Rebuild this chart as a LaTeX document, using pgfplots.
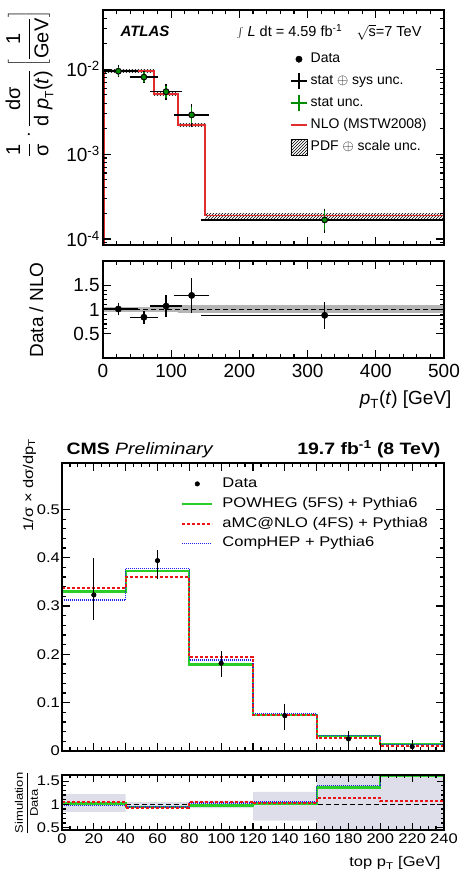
\documentclass[border=0pt]{standalone}
\usepackage{pgfplots}
\pgfplotsset{compat=1.18}
\usepackage{fontspec}
\setmainfont{Liberation Sans}
\newfontfamily\cmsfont[FakeStretch=1.18]{Liberation Sans}
\usetikzlibrary{patterns}

\definecolor{atlred}{RGB}{225,45,45}
\definecolor{atlgreen}{RGB}{0,140,0}
\definecolor{cmsgreen}{RGB}{40,205,40}
\definecolor{cmsred}{RGB}{235,20,20}
\definecolor{cmsblue}{RGB}{30,30,235}
\definecolor{cmsband}{RGB}{222,222,234}

\pgfplotsset{
  rootbox/.style={scale only axis, anchor=south west, axis on top,
    axis line style={line width=1.5pt},
    tick style={black, line width=1.1pt},
    tick align=inside, major tick length=8pt, minor tick length=4pt},
  hatch/.style={pattern=north east lines, draw=none, forget plot},
}

\begin{document}
\begin{tikzpicture}[x=1pt,y=1pt]
\useasboundingbox (0,0) rectangle (463,874);

% ---------------- ATLAS main panel
\begin{axis}[rootbox, at={(103pt,629pt)}, width=341pt, height=235pt,
  xmin=0, xmax=500, ymode=log, ymin=8.5e-5, ymax=5e-2,
  xtick={0,100,200,300,400,500}, minor x tick num=4, xticklabels={},
  ytick={1e-4,1e-3,1e-2},
  yticklabels={10\textsuperscript{-4},10\textsuperscript{-3},10\textsuperscript{-2}},
  minor ytick={9e-5,2e-4,3e-4,4e-4,5e-4,6e-4,7e-4,8e-4,9e-4,2e-3,3e-3,4e-3,5e-3,6e-3,7e-3,8e-3,9e-3,2e-2,3e-2,4e-2},
  yticklabel style={font=\fontsize{19}{21}\selectfont, inner xsep=3pt},
  legend cell align=left,
  legend style={draw=none, fill=none, at={(0.5396,0.8468)}, anchor=north west,
    font=\fontsize{14}{16}\selectfont,
    nodes={inner sep=0pt, text height=14.6pt, text depth=7.4pt},
    /tikz/every odd column/.append style={column sep=3pt}},
]
\addlegendimage{legend image code/.code={\fill[black] (8pt,0pt) circle (3.2pt);}}
\addlegendentry{Data}
\addlegendimage{legend image code/.code={\draw[black,line width=1.5pt] (0pt,0pt)--(16pt,0pt) (8pt,-8pt)--(8pt,8pt);}}
\addlegendentry{stat $\oplus$ sys unc.}
\addlegendimage{legend image code/.code={\draw[atlgreen,line width=1.5pt] (0pt,0pt)--(16pt,0pt) (8pt,-8pt)--(8pt,8pt);}}
\addlegendentry{stat unc.}
\addlegendimage{legend image code/.code={\draw[atlred,line width=1.5pt] (0pt,0pt)--(16pt,0pt);}}
\addlegendentry{NLO (MSTW2008)}
\addlegendimage{legend image code/.code={\draw[black,line width=0.8pt,pattern=north east lines] (0pt,-8pt) rectangle (16pt,8pt);}}
\addlegendentry{PDF $\oplus$ scale unc.}

% PDF + scale band, one piece per bin
\addplot[hatch] coordinates {(0,9.1e-3) (75,9.1e-3) (75,9.9e-3) (0,9.9e-3)} -- cycle;
\addplot[hatch] coordinates {(75,4.95e-3) (110,4.95e-3) (110,5.35e-3) (75,5.35e-3)} -- cycle;
\addplot[hatch] coordinates {(110,2.1e-3) (150,2.1e-3) (150,2.3e-3) (110,2.3e-3)} -- cycle;
\addplot[hatch] coordinates {(150,1.76e-4) (500,1.76e-4) (500,2.02e-4) (150,2.02e-4)} -- cycle;
% NLO prediction
\addplot[const plot, atlred, line width=1.8pt, forget plot] coordinates {
  (0,9.5e-3) (75,5.15e-3) (110,2.2e-3) (150,1.89e-4) (500,1.89e-4)};
\addplot[atlred, line width=1.8pt, forget plot] coordinates {(1.5,1e-5) (1.5,9.5e-3)};
% data, stat + syst
\addplot[black, only marks, mark=*, mark size=3.2pt, forget plot,
  error bars/.cd, x dir=both, x explicit, y dir=both, y explicit,
  error bar style={line width=1.4pt, black},
  error mark options={line width=1.4pt, mark size=4pt, black}] coordinates {
  (22.5,9.5e-3) +- (22.5,0.45e-3)
  (60,8.1e-3) +- (15,0.5e-3)
  (92.5,5.45e-3) +- (17.5,0.55e-3)
  (130,2.9e-3) +- (20,0.6e-3)
  (325,1.68e-4) +- (175,0.36e-4)};
% data, stat only
\addplot[atlgreen, only marks, mark=*, mark size=2pt, forget plot,
  error bars/.cd, y dir=both, y explicit,
  error bar style={line width=1.4pt, atlgreen},
  error mark options={line width=1.4pt, mark size=3.5pt, atlgreen}] coordinates {
  (22.5,9.5e-3) +- (0,0.3e-3)
  (60,8.1e-3) +- (0,0.35e-3)
  (92.5,5.45e-3) +- (0,0.35e-3)
  (130,2.9e-3) +- (0,0.35e-3)
  (325,1.68e-4) +- (0,0.27e-4)};
\end{axis}

\node[anchor=base west, font=\fontsize{15}{17}\selectfont\bfseries\itshape] at (117,837) {ATLAS};
\node[anchor=base east, font=\fontsize{14.5}{16}\selectfont] at (425,837)
  {$\int$ \textit{L} dt = 4.59 fb\textsuperscript{-1}\quad$\sqrt{\mbox{s}}$=7 TeV};
\node[rotate=90, font=\fontsize{20}{22}\selectfont] at (29.5,790)
  {$\displaystyle\frac{\mbox{1}}{\mbox{σ}}\cdot\frac{\mbox{dσ}}{\mbox{d \textit{p}}_{\mbox{\fontsize{12}{12}\selectfont T}}\mbox{(\textit{t})}}\left[\frac{\mbox{1}}{\mbox{GeV}}\right]$};

% ---------------- ATLAS ratio panel
\begin{axis}[rootbox, at={(103pt,516pt)}, width=341pt, height=97pt,
  xmin=0, xmax=500, ymin=0, ymax=2,
  xtick={0,100,200,300,400,500}, xticklabels={0,100,200,300,400,500}, minor x tick num=4,
  ytick={0.5,1,1.5}, yticklabels={0.5,1,1.5}, minor y tick num=4,
  tick label style={font=\fontsize{19}{21}\selectfont},
  yticklabel style={inner xsep=3pt}, xticklabel style={inner ysep=6pt},
]
\addplot[fill=gray!58, draw=none] coordinates {
  (0,0.95) (110,0.95) (110,0.93) (500,0.93) (500,1.09) (110,1.09) (110,1.05) (0,1.05)} -- cycle;
\addplot[black, line width=1.1pt, dash pattern=on 5pt off 3pt] coordinates {(0,1) (500,1)};
\addplot[black, only marks, mark=*, mark size=3.2pt,
  error bars/.cd, x dir=both, x explicit, y dir=both, y explicit,
  error bar style={line width=1.4pt, black},
  error mark options={line width=1.4pt, mark size=4pt, black}] coordinates {
  (22.5,1.01) +- (22.5,0.05)
  (60,0.84) +- (15,0.05)
  (92.5,1.07) +- (17.5,0.14)
  (130,1.29) +- (20,0.27)
  (325,0.88) +- (175,0.19)};
\end{axis}

\node[rotate=90, anchor=base, font=\fontsize{19}{21}\selectfont] at (43,564) {Data / NLO};
\node[anchor=base east, font=\fontsize{19}{21}\selectfont] at (455,469)
  {\textit{p}\textsubscript{T}(\textit{t}) [GeV]};

% ---------------- CMS main panel
\begin{axis}[rootbox, at={(62pt,123pt)}, width=382pt, height=288pt,
  axis line style={line width=1.3pt},
  xmin=0, xmax=240, ymin=0, ymax=0.596,
  xtick={0,20,40,60,80,100,120,140,160,180,200,220,240}, minor x tick num=3, xticklabels={},
  ytick={0,0.1,0.2,0.3,0.4,0.5}, yticklabels={0,0.1,0.2,0.3,0.4,0.5}, minor y tick num=4,
  yticklabel style={font=\cmsfont\fontsize{14}{16}\selectfont, inner xsep=2pt},
  legend cell align=left,
  legend style={draw=none, fill=none, at={(0.3037,0.9694)}, anchor=north west,
    font=\cmsfont\fontsize{14}{16}\selectfont,
    nodes={inner sep=0pt, text height=13.5pt, text depth=6.3pt},
    /tikz/every odd column/.append style={column sep=9pt}},
]
\addlegendimage{legend image code/.code={\fill[black] (15pt,0pt) circle (2.3pt);}}
\addlegendentry{Data}
\addlegendimage{legend image code/.code={\draw[cmsgreen, line width=2.2pt] (0pt,0pt)--(30pt,0pt);}}
\addlegendentry{POWHEG (5FS) + Pythia6}
\addlegendimage{legend image code/.code={\draw[cmsred, line width=2pt, dash pattern=on 3pt off 2pt] (0pt,0pt)--(30pt,0pt);}}
\addlegendentry{aMC@NLO (4FS) + Pythia8}
\addlegendimage{legend image code/.code={\draw[cmsblue, line width=1.5pt, dash pattern=on 1pt off 1pt] (0pt,0pt)--(30pt,0pt);}}
\addlegendentry{CompHEP + Pythia6}

\addplot[const plot, cmsgreen, line width=2.2pt, forget plot] coordinates {
  (0,0.330) (40,0.373) (80,0.179) (120,0.0745) (160,0.0315) (200,0.0140) (240,0.0140)};
\addplot[const plot, cmsblue, line width=1.5pt, dash pattern=on 1pt off 1pt, forget plot] coordinates {
  (0,0.312) (40,0.378) (80,0.188) (120,0.078) (160,0.0320) (200,0.0135) (240,0.0135)};
\addplot[const plot, cmsred, line width=2pt, dash pattern=on 3pt off 2pt, forget plot] coordinates {
  (0,0.337) (40,0.361) (80,0.195) (120,0.074) (160,0.0275) (200,0.0095) (240,0.0095)};
\addplot[black, only marks, mark=*, mark size=2.3pt, forget plot,
  error bars/.cd, y dir=both, y explicit,
  error bar style={line width=1.1pt, black},
  error mark options={line width=1.1pt, mark size=3pt, black}] coordinates {
  (20,0.323) += (0,0.070) -= (0,0.045)
  (60,0.394) += (0,0.016) -= (0,0.032)
  (100,0.1815) += (0,0.019) -= (0,0.022)
  (140,0.073) += (0,0.019) -= (0,0.024)
  (180,0.025) += (0,0.011) -= (0,0.013)
  (220,0.009) += (0,0.007) -= (0,0.007)};
\addplot[black, only marks, mark=none, forget plot,
  error bars/.cd, y dir=both, y explicit,
  error bar style={line width=1.1pt, black},
  error mark options={line width=1.1pt, mark size=3pt, black}] coordinates {
  (20,0.323) += (0,0.019) -= (0,0.021)
  (60,0.394) += (0,0.011) -= (0,0.011)
  (100,0.1815) += (0,0.008) -= (0,0.008)
  (140,0.073) += (0,0.008) -= (0,0.008)
  (180,0.025) += (0,0.005) -= (0,0.005)
  (220,0.009) += (0,0.004) -= (0,0.004)};
\end{axis}

\node[anchor=base west, font=\cmsfont\fontsize{16.5}{18}\selectfont] at (63,419)
  {\textbf{CMS} \textit{Preliminary}};
\node[anchor=base east, font=\cmsfont\fontsize{16.5}{18}\selectfont] at (444,419)
  {\textbf{19.7 fb\textsuperscript{-1} (8 TeV)}};
\node[rotate=90, anchor=base east, font=\cmsfont\fontsize{14}{16}\selectfont] at (33,439)
  {1/σ × dσ/dp\textsubscript{T}};

% ---------------- CMS ratio panel
\begin{axis}[rootbox, at={(62pt,44pt)}, width=382pt, height=55pt,
  axis line style={line width=1.3pt},
  xmin=0, xmax=240, ymin=0.45, ymax=1.63,
  xtick={0,20,40,60,80,100,120,140,160,180,200,220,240},
  xticklabels={0,20,40,60,80,100,120,140,160,180,200,220,240}, minor x tick num=3,
  ytick={0.5,1,1.5}, yticklabels={0.5,1,1.5}, minor y tick num=4,
  major tick length=7pt, minor tick length=3.5pt,
  tick label style={font=\cmsfont\fontsize{14}{16}\selectfont},
  yticklabel style={inner xsep=2pt}, xticklabel style={inner ysep=4pt},
]
\addplot[fill=cmsband, draw=none] coordinates {
  (0,1.22) (40,1.22) (40,1.05) (80,1.05) (80,1.08) (120,1.08) (120,1.27) (160,1.27)
  (160,1.7) (240,1.7) (240,0.4) (160,0.4) (160,0.65) (120,0.65) (120,0.92) (80,0.92)
  (80,0.93) (40,0.93) (40,0.84) (0,0.84)} -- cycle;
\addplot[black, line width=0.9pt, dash pattern=on 5pt off 3pt] coordinates {(0,1) (240,1)};
\addplot[const plot, cmsgreen, line width=2.2pt] coordinates {
  (0,1.02) (40,0.94) (80,0.975) (120,1.02) (160,1.36) (200,1.615) (240,1.615)};
\addplot[const plot, cmsblue, line width=1.5pt, dash pattern=on 1pt off 1pt] coordinates {
  (0,0.975) (40,0.945) (80,1.03) (120,1.05) (160,1.40) (200,1.63) (240,1.63)};
\addplot[const plot, cmsred, line width=2pt, dash pattern=on 3pt off 2pt] coordinates {
  (0,1.04) (40,0.92) (80,1.06) (120,1.02) (160,1.13) (200,1.07) (240,1.07)};
\end{axis}

\node[rotate=90, font=\cmsfont\fontsize{11}{12}\selectfont] at (26.5,71)
  {$\displaystyle\frac{\mbox{Simulation}}{\mbox{Data}}$};
\node[anchor=base east, font=\cmsfont\fontsize{14}{16}\selectfont] at (444,7)
  {top p\textsubscript{T} [GeV]};
\end{tikzpicture}
\end{document}
